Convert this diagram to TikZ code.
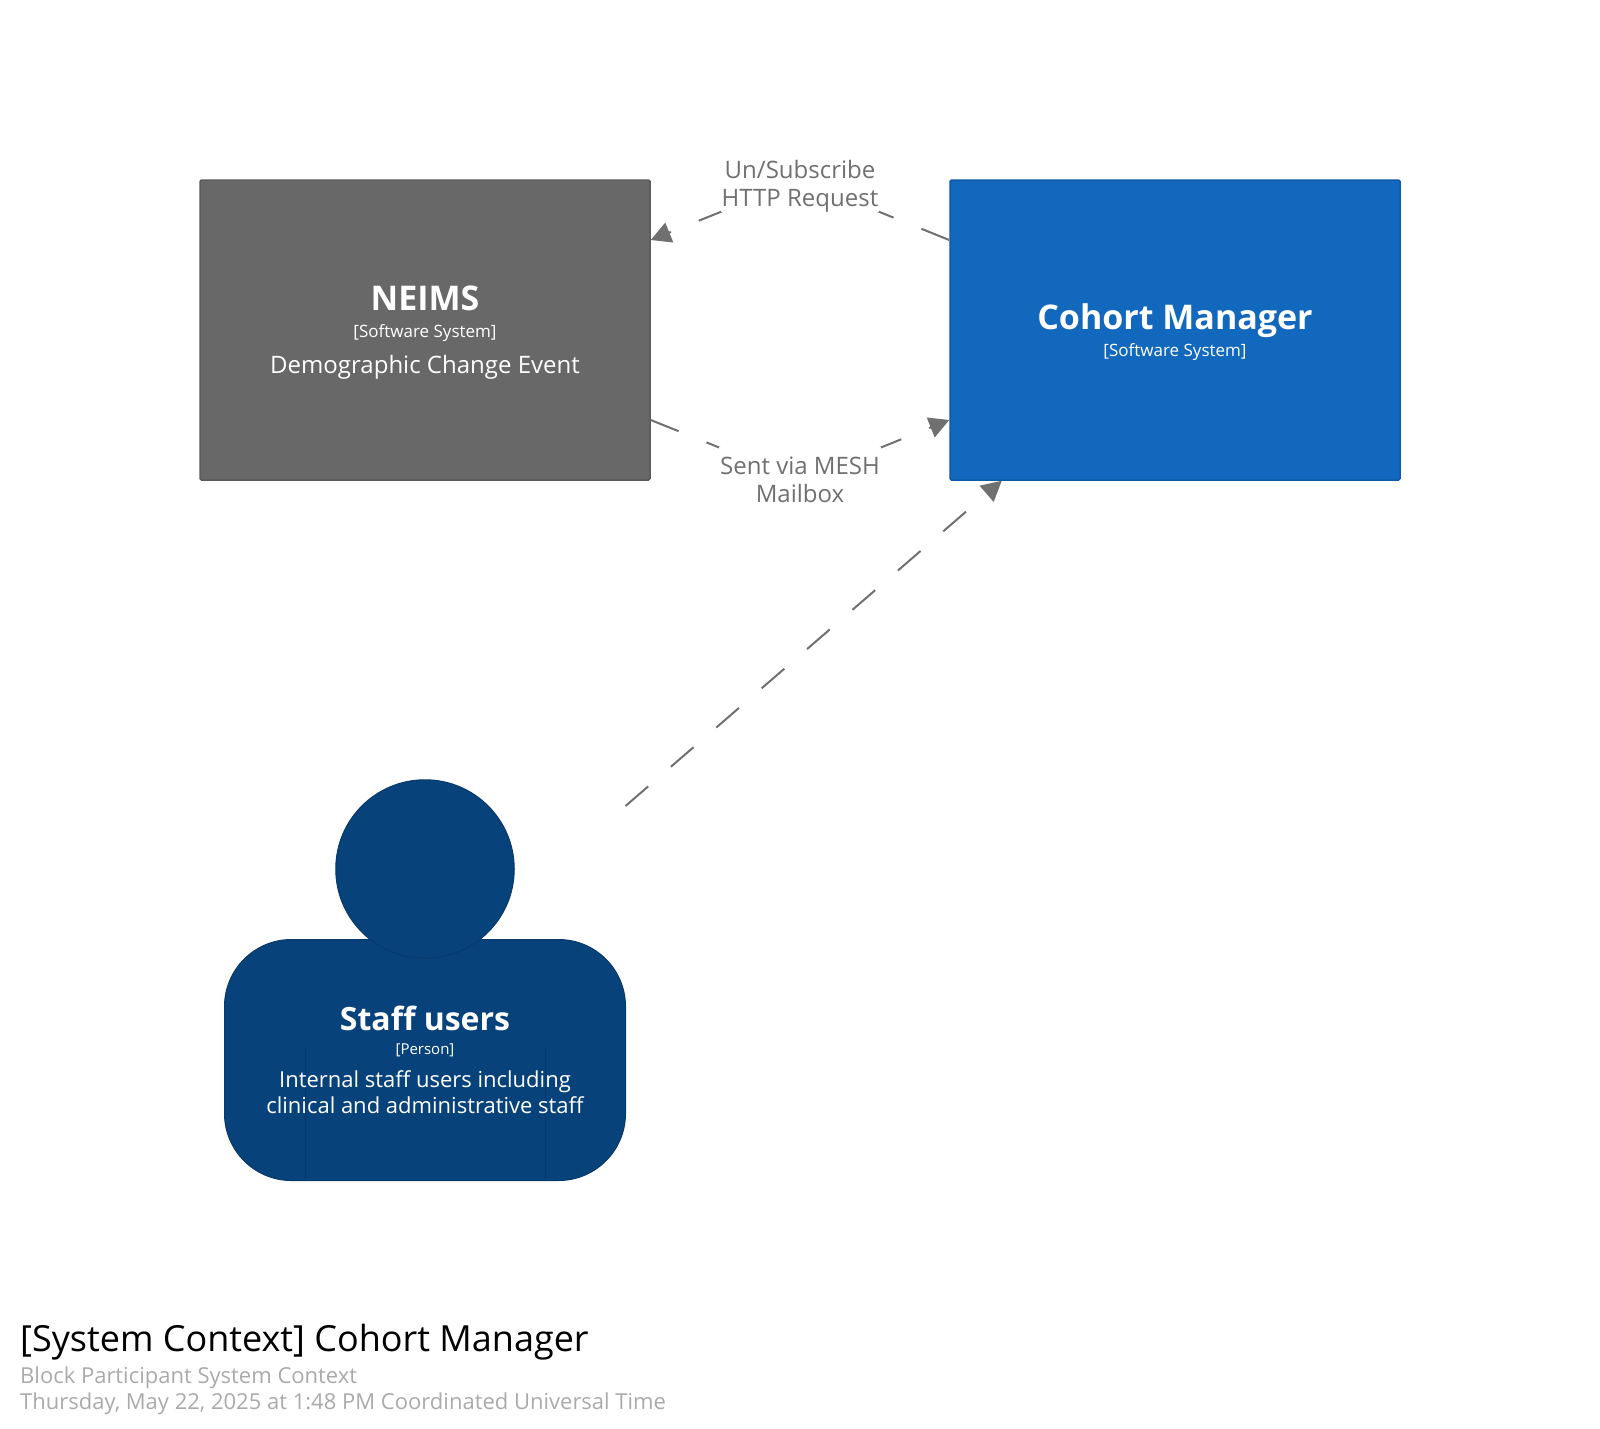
\documentclass[tikz,border=0pt]{standalone}
\usepackage{fontspec}
\setmainfont{Open Sans}
\usetikzlibrary{arrows.meta}
\definecolor{edgegrey}{HTML}{707070}
\definecolor{neimsgrey}{HTML}{686868}
\definecolor{neimsline}{HTML}{5B5B5B}
\definecolor{cohortblue}{HTML}{1168BD}
\definecolor{cohortline}{HTML}{0B5BA8}
\definecolor{staffblue}{HTML}{08427B}
\definecolor{staffline}{HTML}{073A6C}
\definecolor{footgrey}{HTML}{AAAAAA}
\newcommand{\namefont}{\fontsize{34}{40}\selectfont\bfseries\rule{0pt}{30pt}}
\newcommand{\tagfont}{\fontsize{17}{24}\selectfont}
\newcommand{\descfont}{\fontsize{24}{26}\selectfont}
\newcommand{\labeltop}{\rule{0pt}{27pt}}
\newcommand{\labelbot}{\rule[-6pt]{0pt}{6pt}}
\tikzset{
sysbox/.style={draw,line width=1.5pt,minimum width=450pt,minimum height=300pt,
  rounded corners=1.5pt,text=white,align=center,inner sep=0pt},
flow/.style={edgegrey,line width=2pt,dash pattern=on 30pt off 30pt,
  -{Triangle[length=20pt,width=21pt]}},
flowlabel/.style={anchor=north,fill=white,text=edgegrey,align=center,inner ysep=0pt,inner xsep=1pt,
  font=\fontsize{24}{28}\selectfont},
foot/.style={anchor=base west,inner sep=0pt,font=\fontsize{22}{26}\selectfont,text=footgrey}
}
\begin{document}
\begin{tikzpicture}[x=1pt,y=-1pt]
\useasboundingbox (0,0) rectangle (1600,1428);
\node[sysbox,fill=neimsgrey,draw=neimsline] (neims) at (425,330)
  {\namefont NEIMS\\[13pt]\tagfont [Software System]\\[12.5pt]\descfont Demographic Change Event};
\node[sysbox,fill=cohortblue,draw=cohortline] (cohort) at (1175,330)
  {\namefont Cohort Manager\\[5pt]\tagfont [Software System]};
\node[draw=staffline,fill=staffblue,line width=1pt,minimum width=401pt,minimum height=241pt,
  rounded corners=67pt] (staffbody) at (425,1060) {};
\foreach \x in{-120,120}
  \draw[staffline,line width=1pt] ([xshift=\x pt]staffbody.south) -- +(0,-133);
\node[circle,draw=staffline,fill=staffblue,line width=1pt,minimum size=178.5pt,inner sep=0pt]
  (staffhead) at (425,869) {};
\node[text=white,align=center,inner sep=0pt] (stafftext) at (staffbody)
  {\fontsize{32}{38}\selectfont\bfseries Staff users\\[12pt]\fontsize{15}{20}\selectfont [Person]\\[13pt]\fontsize{22}{26}\selectfont Internal staff users including\\[3pt]\fontsize{22}{26}\selectfont clinical and administrative staff};
\coordinate (reqturn) at (800,180);
\coordinate (meshturn) at (800,480);
\coordinate (staffstart) at (625.5,806);
\draw[flow] ([yshift=90pt]cohort.west) -- (reqturn) -- ([yshift=90pt]neims.east);
\draw[flow] ([yshift=-90pt]neims.east) -- (meshturn) -- ([yshift=-90pt]cohort.west);
\draw[flow] (staffstart) -- ([xshift=52.5pt]cohort.south west);
\node[flowlabel] (reqlabel) at (800,151) {\labeltop Un/Subscribe\\HTTP Request\labelbot};
\node[flowlabel] (meshlabel) at (800,446.8) {\labeltop Sent via MESH\\Mailbox\labelbot};
\node[foot,text=black,font=\fontsize{36}{40}\selectfont] (title) at (20,1351) {[System Context] Cohort Manager};
\node[foot] (subtitle) at (20,1383) {Block Participant System Context};
\node[foot] (stamp) at (20,1409) {Thursday, May 22, 2025 at 1:48 PM Coordinated Universal Time};
\end{tikzpicture}
\end{document}
